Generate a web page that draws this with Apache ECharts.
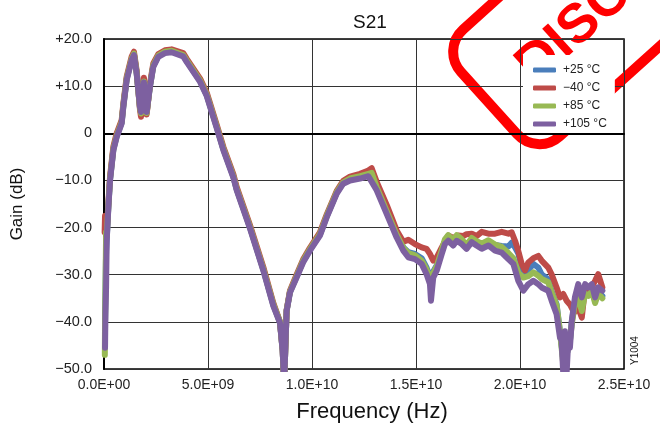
<!DOCTYPE html>
<html><head><meta charset="utf-8">
<script src="https://cdn.jsdelivr.net/npm/echarts@6/dist/echarts.min.js"></script>
<style>html,body{margin:0;padding:0;background:#fff}#c{width:660px;height:433px}</style>
</head><body><div id="c"></div>
<script>
// Frequency in GHz, gain in dB
const seriesNames = ['+25 °C', '\u221240 °C', '+85 °C', '+105 °C'];
const xTickLabels = ['0.0E+00', '5.0E+09', '1.0E+10', '1.5E+10', '2.0E+10', '2.5E+10'];
const yTickLabels = ['\u221250.0', '\u221240.0', '\u221230.0', '\u221220.0', '\u221210.0', '0', '+10.0', '+20.0'];

const purple105 = [[0.05,-45.5],[0.07,-38],[0.10,-32.7],[0.13,-22.8],[0.21,-15.7],[0.29,-10],[0.45,-3.6],[0.61,-0.8],[0.85,2.1],[0.93,5.6],[1.09,11.3],[1.33,15.5],[1.44,16.6],[1.57,12.7],[1.73,5.6],[1.78,4.5],[1.86,8],[1.92,10.8],[1.98,8],[2.05,4.5],[2.21,9.9],[2.37,14.1],[2.61,16.2],[2.93,17.0],[3.25,17.2],[3.81,16.3],[3.98,15.1],[4.62,10.9],[4.94,7.9],[5.42,1.1],[5.74,-3.6],[6.22,-9.4],[6.38,-12.1],[7.02,-20.2],[7.66,-29.1],[8.14,-36.6],[8.46,-40.2],[8.59,-46.2],[8.66,-53],[8.78,-37.7],[8.94,-33.8],[9.26,-30.6],[9.57,-27.4],[9.90,-24.9],[10.38,-21.7],[10.71,-17.8],[11.19,-12.8],[11.50,-10.7],[11.83,-10],[12.31,-9.6],[12.71,-9.1],[13.11,-12.1],[13.59,-17.1],[14.07,-22.1],[14.39,-24.9],[14.63,-26.3],[14.95,-26.7],[15.27,-27.7],[15.51,-29.9],[15.67,-32],[15.72,-35.5],[15.83,-30.6],[16.00,-29.1],[16.24,-25.6],[16.39,-23.5],[16.55,-22.8],[16.79,-23.8],[16.96,-22.8],[17.20,-23.5],[17.43,-24.5],[17.68,-23.1],[17.91,-23.8],[18.16,-24.5],[18.48,-23.8],[18.80,-24.9],[19.12,-25.3],[19.44,-26.7],[19.68,-27.7],[19.92,-31.3],[20.16,-33.4],[20.40,-32],[20.64,-31.3],[20.88,-32],[21.04,-32.7],[21.36,-33.4],[21.52,-35.5],[21.76,-38.4],[21.92,-43.3],[22.00,-44],[22.08,-51],[22.16,-42],[22.24,-51],[22.32,-44],[22.40,-45.5],[22.49,-39.8],[22.64,-34.8],[22.80,-32],[22.97,-34.8],[23.13,-32],[23.28,-32.7],[23.45,-32],[23.61,-34.8],[23.76,-32.7],[23.96,-33.4]];

const red40 = [[0.03,-21],[0.05,-17.5],[0.10,-21],[0.14,-20],[0.21,-14.8],[0.29,-9.2],[0.45,-2.8],[0.61,0],[0.85,2.8],[0.93,6.3],[1.09,12],[1.33,16.3],[1.44,17.3],[1.57,13.3],[1.73,5],[1.78,3.5],[1.86,8.5],[1.92,11.8],[1.98,8],[2.05,4],[2.21,10.5],[2.37,14.8],[2.61,16.8],[2.93,17.6],[3.25,17.8],[3.81,17],[3.98,15.8],[4.62,11.6],[4.94,8.6],[5.42,1.8],[5.74,-2.9],[6.22,-8.7],[6.38,-11.4],[7.02,-19.5],[7.66,-28.4],[8.14,-36],[8.46,-40],[8.59,-46],[8.66,-53],[8.78,-37.5],[8.94,-33.4],[9.26,-30],[9.57,-26.8],[9.90,-24.3],[10.38,-21],[10.71,-17.2],[11.19,-12.2],[11.50,-10.1],[11.83,-9.2],[12.31,-8.6],[12.71,-7.9],[12.87,-7.4],[13.11,-10.3],[13.59,-15.2],[14.07,-20.6],[14.39,-23],[14.63,-22.6],[14.95,-23.5],[15.27,-24.2],[15.51,-24.5],[15.67,-25.6],[15.83,-27],[16.00,-26.3],[16.24,-24.2],[16.55,-21.7],[16.79,-22.2],[17.03,-21.7],[17.27,-21.8],[17.43,-21.4],[17.68,-21.3],[17.91,-21.8],[18.16,-20.9],[18.48,-21.3],[18.80,-21.3],[19.12,-20.9],[19.44,-21.3],[19.60,-21],[19.76,-22.8],[19.92,-25],[20.08,-27.7],[20.24,-29.1],[20.40,-27.4],[20.64,-26.5],[20.88,-26],[21.04,-27],[21.36,-28.5],[21.52,-29.9],[21.76,-32.7],[21.92,-34.8],[22.08,-34.1],[22.24,-35.5],[22.40,-36.3],[22.60,-38],[22.80,-37],[22.97,-39.1],[23.13,-32.7],[23.40,-33],[23.61,-31.3],[23.76,-29.9],[23.96,-32.7]];

const green85 = [[0.04,-47],[0.05,-40],[0.08,-30],[0.10,-21],[0.13,-22],[0.21,-15.4],[0.29,-9.7],[0.45,-3.3],[0.61,-0.5],[0.85,2.4],[0.93,5.9],[1.09,11.6],[1.33,15.8],[1.44,16.9],[1.57,12.9],[1.73,5.3],[1.78,4.2],[1.86,8.2],[1.92,11],[1.98,8],[2.05,4.3],[2.21,10.1],[2.37,14.4],[2.61,16.5],[2.93,17.3],[3.25,17.5],[3.81,16.6],[3.98,15.4],[4.62,11.2],[4.94,8.2],[5.42,1.4],[5.74,-3.3],[6.22,-9.1],[6.38,-11.8],[7.02,-19.9],[7.66,-28.8],[8.14,-36.3],[8.46,-40],[8.59,-46],[8.66,-53],[8.78,-37.6],[8.94,-33.6],[9.26,-30.3],[9.57,-27.1],[9.90,-24.6],[10.38,-21.4],[10.71,-17.5],[11.19,-12.5],[11.50,-10.4],[11.83,-9.6],[12.31,-9.1],[12.71,-8.6],[12.87,-8.4],[13.11,-11.4],[13.59,-16.5],[14.07,-21.5],[14.39,-24.3],[14.63,-25.4],[14.95,-25.9],[15.27,-27],[15.51,-28.9],[15.67,-30.9],[15.83,-29.6],[16.00,-28.2],[16.24,-24.8],[16.39,-22.5],[16.55,-21.6],[16.79,-22.7],[16.96,-21.6],[17.20,-22.5],[17.43,-23.7],[17.68,-22.2],[17.91,-22.9],[18.16,-23.4],[18.48,-22.7],[18.80,-23.6],[19.12,-24.1],[19.44,-25.4],[19.68,-26.5],[19.92,-29.6],[20.16,-30.6],[20.40,-30.3],[20.64,-29.5],[20.88,-30.2],[21.04,-30.9],[21.36,-31.6],[21.52,-33.8],[21.76,-36.5],[21.92,-42],[22.08,-49],[22.24,-47],[22.40,-44],[22.49,-40.5],[22.64,-36],[22.80,-35],[22.97,-37.7],[23.13,-34],[23.28,-34.5],[23.45,-33.5],[23.61,-36],[23.76,-34],[23.96,-35]];

const blue25 = [[0.05,-40],[0.10,-25],[0.13,-22.5],[0.21,-15.5],[0.29,-9.8],[0.45,-3.4],[0.61,-0.6],[0.85,2.3],[0.93,5.8],[1.09,11.5],[1.33,15.7],[1.44,16.8],[1.57,12.8],[1.73,5.4],[1.78,4.3],[1.86,8.1],[1.92,10.9],[1.98,8],[2.05,4.4],[2.21,10],[2.37,14.3],[2.61,16.4],[2.93,17.2],[3.25,17.4],[3.81,16.5],[3.98,15.3],[4.62,11.1],[4.94,8.1],[5.42,1.3],[5.74,-3.4],[6.22,-9.2],[6.38,-11.9],[7.02,-20],[7.66,-28.9],[8.14,-36.4],[8.46,-40.1],[8.59,-46.1],[8.66,-53],[8.78,-37.6],[8.94,-33.7],[9.26,-30.4],[9.57,-27.2],[9.90,-24.7],[10.38,-21.5],[10.71,-17.6],[11.19,-12.6],[11.50,-10.5],[11.83,-9.5],[12.31,-9],[12.71,-8.4],[12.87,-8.3],[13.11,-11.2],[13.59,-16.3],[14.07,-21.4],[14.39,-24.2],[14.63,-25.2],[14.95,-25.6],[15.27,-26.5],[15.51,-28.5],[15.67,-30.5],[15.83,-29.3],[16.00,-28],[16.24,-24.9],[16.39,-22.9],[16.55,-22.1],[16.79,-23],[16.96,-22],[17.20,-22.8],[17.43,-23.8],[17.68,-22.5],[17.91,-23],[18.16,-23.5],[18.48,-22.9],[18.80,-23.7],[19.12,-23.9],[19.44,-24],[19.60,-23.2],[19.76,-24.2],[19.92,-25.5],[20.08,-28.5],[20.24,-29.8],[20.40,-29],[20.64,-27.7],[20.88,-28.5],[21.04,-29.9],[21.36,-31],[21.52,-33.5],[21.76,-36.3],[21.92,-42],[22.08,-48],[22.24,-47],[22.40,-44],[22.49,-40],[22.64,-35.5],[22.80,-33.5],[22.97,-36],[23.13,-33],[23.28,-33.8],[23.45,-33],[23.61,-35.2],[23.76,-33.5],[23.96,-34.5]];

const colors = ['#4a7ebb', '#be4b48', '#98b954', '#7d60a0'];
const seriesData = [blue25, red40, green85, purple105];

const FONT = "'Liberation Sans', Arial, sans-serif";
const chart = echarts.init(document.getElementById('c'), null, {renderer: 'canvas'});
chart.setOption({
  animation: false,
  backgroundColor: '#fff',
  title: {text: 'S21', left: 365, top: 8, textAlign: 'center',
    textStyle: {fontFamily: FONT, fontSize: 19, fontWeight: 'normal', color: '#111'}},
  grid: {left: 104, top: 39, width: 520, height: 330, show: true, borderColor: '#000', borderWidth: 1.5, backgroundColor: 'transparent'},
  legend: {
    orient: 'vertical', left: 523, top: 55,
    padding: [8, 8, 2, 10], itemGap: 4, itemWidth: 23, itemHeight: 5,
    backgroundColor: '#fff', icon: 'roundRect', itemStyle: {borderWidth: 0},
    textStyle: {fontFamily: FONT, fontSize: 12, color: '#222', lineHeight: 14, padding: [0, 0, 0, 2]},
    data: seriesNames
  },
  xAxis: {
    type: 'value', min: 0, max: 25, interval: 5,
    name: 'Frequency (Hz)', nameLocation: 'middle', nameGap: 32,
    nameTextStyle: {fontFamily: FONT, fontSize: 22, color: '#111', padding: [0, 0, 0, 16]},
    axisLine: {show: true, lineStyle: {color: '#000', width: 2}},
    axisTick: {show: false},
    axisLabel: {fontFamily: FONT, fontSize: 14, color: '#222', margin: 9,
      formatter: v => xTickLabels[Math.round(v / 5)]},
    splitLine: {show: true, lineStyle: {color: '#333', width: 1}}
  },
  yAxis: {
    type: 'value', min: -50, max: 20, interval: 10,
    name: 'Gain (dB)', nameLocation: 'middle', nameGap: 78, nameRotate: 90,
    nameTextStyle: {fontFamily: FONT, fontSize: 17, color: '#111'},
    axisLine: {show: true, onZero: false, lineStyle: {color: '#000', width: 2}},
    axisTick: {show: false},
    axisLabel: {fontFamily: FONT, fontSize: 14.5, color: '#222', margin: 12,
      formatter: v => yTickLabels[Math.round((v + 50) / 10)]},
    splitLine: {show: true, lineStyle: {color: '#333', width: 1}}
  },
  series: seriesData.map((d, i) => ({
    name: seriesNames[i], type: 'line', data: d, showSymbol: false, symbol: 'none',
    clip: true, z: 2 + i * 0.01,
    color: colors[i],
    lineStyle: {color: colors[i], width: 6, cap: 'round', join: 'round'}
  })),
  graphic: [
    {type: 'group', x: 489, y: 103, rotation: 42 * Math.PI / 180, z: 3,
      children: [
        {type: 'rect', shape: {x: 0, y: -72, width: 600, height: 144, r: 30},
          style: {fill: 'none', stroke: '#ff0000', lineWidth: 10}},
        {type: 'text', x: 46, y: 3,
          style: {text: 'DISCONTINUED', fill: '#ff0000', font: "bold 55px 'Liberation Sans', Arial, sans-serif",
            textAlign: 'left', verticalAlign: 'middle'}}
      ]},
    {type: 'text', x: 630, y: 365, rotation: Math.PI / 2, z: 3,
      style: {text: 'Y1004', fill: '#111', font: "10px 'Liberation Sans', Arial, sans-serif", textAlign: 'left', verticalAlign: 'top'}}
  ]
});
</script></body></html>
